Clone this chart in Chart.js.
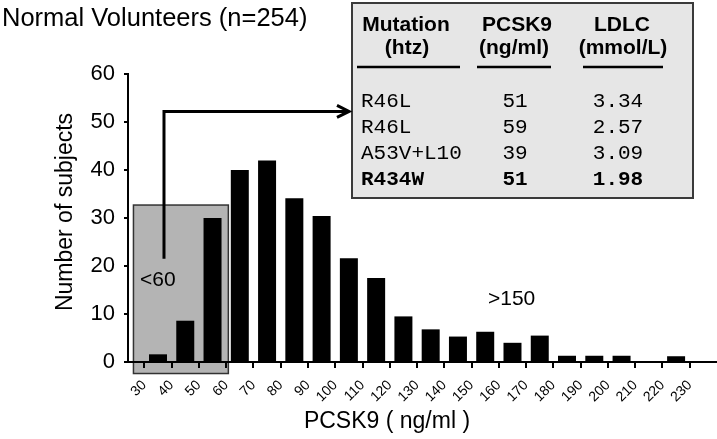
<!DOCTYPE html>
<html>
<head>
<meta charset="utf-8">
<script src="https://cdn.jsdelivr.net/npm/chart.js@4.4.1/dist/chart.umd.min.js"></script>
<style>
  body { margin: 0; background: #fff; }
</style>
</head>
<body>
<canvas id="pcsk9Chart" width="717" height="439"></canvas>
<script>
// PCSK9 bins (ng/ml), lower edge of each 10-wide bin
var binStarts = [30, 40, 50, 60, 70, 80, 90, 100, 110, 120, 130, 140, 150, 160, 170, 180, 190, 200, 210, 220];
// number of subjects per bin
var subjectCounts = [1.6, 8.6, 30.0, 40.0, 42.0, 34.1, 30.4, 21.6, 17.5, 9.5, 6.8, 5.3, 6.3, 4.0, 5.5, 1.3, 1.3, 1.3, 0, 1.2];
// tick labels of the x axis (bin edges)
var xTickValues = [30, 40, 50, 60, 70, 80, 90, 100, 110, 120, 130, 140, 150, 160, 170, 180, 190, 200, 210, 220, 230];

// inset table
var mutations = ["R46L", "R46L", "A53V+L10", "R434W"];
var pcsk9Levels = [51, 59, 39, 51];
var ldlcLevels = [3.34, 2.57, 3.09, 1.98];

var SANS = '"Liberation Sans", Arial, sans-serif';
var MONO = '"Liberation Mono", "Courier New", monospace';

// gray box behind the <60 group
var lowBoxPlugin = {
    id: 'lowBox',
    beforeDraw: function (chart) {
        var ctx = chart.ctx, xs = chart.scales.x, ys = chart.scales.y;
        var x1 = xs.getPixelForValue(26), x2 = xs.getPixelForValue(60.8);
        var y1 = ys.getPixelForValue(32.7), y2 = ys.getPixelForValue(-2.4);
        ctx.save();
        ctx.fillStyle = '#b4b4b4';
        ctx.fillRect(x1, y1, x2 - x1, y2 - y1);
        ctx.strokeStyle = '#333';
        ctx.lineWidth = 1.5;
        ctx.strokeRect(x1, y1, x2 - x1, y2 - y1);
        ctx.restore();
    }
};

// arrow, labels, titles and the mutation table
var annotatePlugin = {
    id: 'annotate',
    afterDraw: function (chart) {
        var ctx = chart.ctx, xs = chart.scales.x, ys = chart.scales.y;
        ctx.save();
        ctx.fillStyle = '#000';

        // titles
        ctx.font = '25.5px ' + SANS;
        ctx.textAlign = 'left';
        ctx.textBaseline = 'alphabetic';
        ctx.fillText('Normal Volunteers (n=254)', 2, 26);

        ctx.font = '23px ' + SANS;
        ctx.textAlign = 'center';
        ctx.textBaseline = 'middle';
        ctx.fillText('PCSK9 ( ng/ml )', 387, 422);

        ctx.save();
        ctx.translate(66, 212);
        ctx.rotate(-Math.PI / 2);
        ctx.fillText('Number of subjects', 0, 0);
        ctx.restore();

        // group labels
        ctx.font = '21px ' + SANS;
        ctx.textAlign = 'left';
        ctx.fillText('<60', xs.getPixelForValue(28.4), ys.getPixelForValue(17));
        ctx.fillText('>150', xs.getPixelForValue(156), ys.getPixelForValue(13.1));

        // table box
        var bx = 352, by = 3, bw = 341, bh = 195;
        ctx.fillStyle = '#e6e6e6';
        ctx.fillRect(bx, by, bw, bh);
        ctx.strokeStyle = '#3a3a3a';
        ctx.lineWidth = 2;
        ctx.strokeRect(bx, by, bw, bh);

        // arrow from the <60 box to the table
        var ax = xs.getPixelForValue(37.2);
        var ay = ys.getPixelForValue(52.2);
        var tip = bx - 3;
        ctx.strokeStyle = '#000';
        ctx.lineWidth = 3;
        ctx.beginPath();
        ctx.moveTo(ax, ys.getPixelForValue(21.5));
        ctx.lineTo(ax, ay);
        ctx.lineTo(tip, ay);
        ctx.stroke();
        ctx.beginPath();
        ctx.moveTo(tip - 12, ay - 6);
        ctx.lineTo(tip, ay);
        ctx.lineTo(tip - 12, ay + 6);
        ctx.stroke();

        // table header
        ctx.fillStyle = '#000';
        ctx.font = 'bold 21px ' + SANS;
        ctx.textAlign = 'center';
        ctx.textBaseline = 'middle';
        ctx.fillText('Mutation', 406, 25);
        ctx.fillText('(htz)', 407, 48);
        ctx.fillText('PCSK9', 517, 25);
        ctx.fillText('(ng/ml)', 514, 48);
        ctx.fillText('LDLC', 622, 25);
        ctx.fillText('(mmol/L)', 623, 48);

        ctx.lineWidth = 2.5;
        ctx.beginPath();
        ctx.moveTo(357, 67); ctx.lineTo(460, 67);
        ctx.moveTo(477, 67); ctx.lineTo(551, 67);
        ctx.moveTo(583, 67); ctx.lineTo(663, 67);
        ctx.stroke();

        // table rows
        for (var i = 0; i < mutations.length; i++) {
            var ry = 101.7 + i * 26.1;
            ctx.font = (i === mutations.length - 1 ? 'bold ' : '') + '21px ' + MONO;
            ctx.textAlign = 'left';
            ctx.fillText(mutations[i], 361, ry);
            ctx.textAlign = 'center';
            ctx.fillText(String(pcsk9Levels[i]), 515, ry);
            ctx.fillText(ldlcLevels[i].toFixed(2), 618, ry);
        }
        ctx.restore();
    }
};

var points = binStarts.map(function (b, i) { return { x: b + 5, y: subjectCounts[i] }; });

new Chart(document.getElementById('pcsk9Chart'), {
    type: 'bar',
    data: {
        datasets: [{
            data: points,
            backgroundColor: '#000',
            borderWidth: 0,
            barPercentage: 0.66,
            categoryPercentage: 1
        }]
    },
    options: {
        responsive: false,
        animation: false,
        devicePixelRatio: 1,
        layout: { padding: { left: 0, right: 0, top: 74, bottom: 0 } },
        plugins: { legend: { display: false }, tooltip: { enabled: false }, title: { display: false } },
        scales: {
            x: {
                type: 'linear',
                offset: false,
                min: 24,
                max: 240,
                afterBuildTicks: function (scale) {
                    scale.ticks = xTickValues.map(function (v) { return { value: v }; });
                },
                afterFit: function (scale) { scale.height = 77; },
                grid: { drawOnChartArea: false, offset: false, color: '#000', lineWidth: 2, tickLength: 6 },
                border: { color: '#000', width: 2 },
                ticks: {
                    autoSkip: false,
                    maxRotation: 45,
                    minRotation: 45,
                    padding: 9,
                    color: '#000',
                    font: { family: SANS, size: 14 },
                    callback: function (v) { return String(v); }
                }
            },
            y: {
                min: 0,
                max: 60,
                afterFit: function (scale) { scale.width = 128; },
                grid: { drawOnChartArea: false, color: '#000', lineWidth: 2, tickLength: 4 },
                border: { color: '#000', width: 2 },
                ticks: {
                    stepSize: 10,
                    padding: 9,
                    color: '#000',
                    font: { family: SANS, size: 22 }
                }
            }
        }
    },
    plugins: [lowBoxPlugin, annotatePlugin]
});
</script>
</body>
</html>
